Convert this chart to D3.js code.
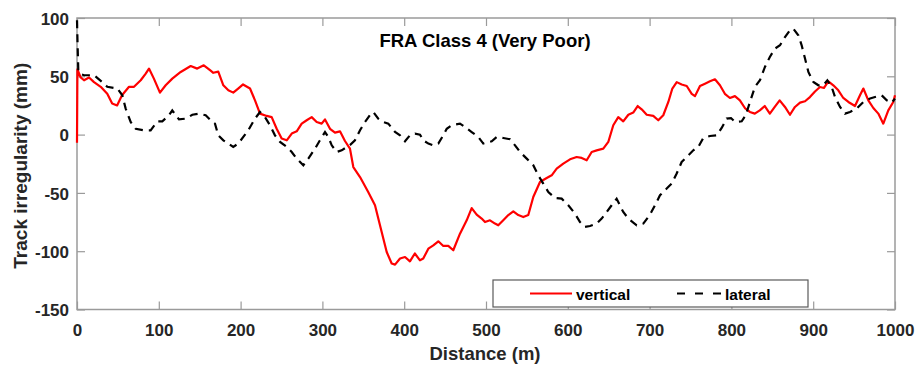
<!DOCTYPE html>
<html>
<head>
<meta charset="utf-8">
<script src="https://cdn.jsdelivr.net/npm/d3@7"></script>
<style>
  html, body { margin: 0; padding: 0; background: #fff; }
  svg { display: block; font-family: "Liberation Sans", Arial, sans-serif; }
</style>
</head>
<body>
<svg id="chart" width="916" height="367"></svg>
<script>
// Track irregularity profiles along 1 km of FRA Class 4 track: [distance (m), irregularity (mm)]
const verticalData = [
  [0,-7],[0.5,56],[4.5,49],[8.6,46.6],[14.7,49],[20.8,45],[29,41],[37,35],[43,26.6],[49,25],
  [55,33.7],[63.6,41],[69.7,41],[77.9,46.6],[84,52.3],[88,56.6],[94,48],[101.4,36],[108.4,42.3],
  [116.5,48],[126.8,53.7],[139,58.8],[147,56.6],[155,59.4],[163,55],[166.6,53],[172.7,54],
  [178.9,42.3],[185,38],[191,36],[197,39.5],[203,43],[211.5,39.5],[217.6,29.4],[223.7,18],
  [231.9,16],[238,15],[244.1,5],[250.2,-3.4],[256.4,-4.9],[262.5,0.9],[268.6,2.8],[274.7,9.4],
  [280.8,12.3],[286.9,15],[293,10.8],[299.1,9.4],[303.2,13],[309.3,5],[315.4,1.7],[321.5,2.8],
  [327.6,-5.5],[333.7,-12],[337.8,-27.8],[346,-36.4],[356,-49.2],[364.3,-60.6],[370.4,-77.8],
  [378.6,-100.7],[384.7,-110.6],[388.8,-111.5],[394.9,-106.3],[401,-105],[407,-108.7],[413,-102],
  [419.3,-107.8],[423.3,-106.3],[429.5,-97.8],[435.6,-95],[441.7,-91.5],[447.8,-95.5],[453.9,-95.5],
  [460,-99.2],[468.2,-85],[476.4,-73.5],[482.5,-63],[488.6,-68.6],[494.7,-72],[498.8,-75],
  [504.9,-73.5],[511,-76.3],[515,-77.8],[521.1,-73.5],[527.3,-69],[533.4,-65.8],[539.5,-69],
  [545.6,-70.7],[551.7,-69],[557.8,-53.5],[566,-40.6],[574.2,-37.2],[580.3,-34.9],[586.4,-29.2],
  [594.5,-24.9],[602.7,-21.2],[610.8,-19.2],[617,-20],[623.1,-22],[629.2,-14.9],[635.3,-13.5],
  [643.4,-12],[649.5,-6.3],[655.6,8],[661.7,15],[667.8,11.4],[674,17],[680,18.9],[685.4,24.5],
  [690.3,21.7],[696.5,17],[704.5,16],[710.6,12.3],[716.7,16.6],[722.9,28],[727.8,39.5],[733.2,45],
  [739.2,43],[745.4,41.7],[751.5,35],[755.5,33],[761.6,41.7],[767.7,43.7],[773.8,45.7],[779.9,47.4],
  [786,42.3],[792,35],[798.2,31.4],[804.3,33],[810.4,29.4],[816.5,22.8],[822.6,19.4],[828.6,18],
  [834.7,20.8],[840.8,24.5],[847,18],[853,23.7],[859,29.4],[865.5,23.7],[871.6,17],[877.7,23.7],
  [883.9,27.4],[890,28.6],[896,32.2],[902.2,37],[908.3,40.8],[913.2,40],[918.5,45.7],[924.6,42.3],
  [930.7,38],[936.8,31.4],[943,28],[951.1,24.5],[957.2,33.7],[961.3,39.5],[967.4,29.4],[973.5,22.8],
  [979.6,18],[985.7,9.4],[991.8,20.8],[997.9,28],[1000,33.7]
];

const lateralData = [
  [0,98],[0.8,75],[1.6,55],[4,52],[8.6,50.9],[20.8,50.9],[31,45],[37,41],[49.3,39.5],[55.4,33.7],
  [59.5,22.3],[65.6,10.8],[71.8,5],[81.9,3.7],[90,3.7],[98.2,11.4],[104.3,11.4],[112.5,16.6],
  [116.5,20.8],[124.7,13],[132.9,13.7],[141,17],[149.1,18],[157.3,16.6],[165.4,10.8],[168.7,9.4],
  [172.7,-0.6],[178.9,-4.9],[185,-7.7],[191,-10.6],[197.2,-7.7],[203.3,-2],[209.4,3.7],[217.6,13.7],
  [223.7,19.4],[229.8,15],[235.9,8],[242,-0.6],[248.2,-6.3],[256.4,-10.6],[262.5,-14.9],[268.6,-20.6],
  [276.7,-26.3],[282.8,-20.6],[291,-12],[297,-4.9],[303.2,2.2],[307.2,-2],[311.4,-9.2],[317.5,-14.9],
  [323.6,-13.5],[329.7,-10.6],[333.7,-9],[339.8,-4.9],[346,3.7],[352,10.8],[358,16.6],[362.2,19.4],
  [368.3,13.7],[374.4,10.8],[380.6,9.4],[388.8,2.2],[394.9,-0.6],[401,-5.7],[407,-0.6],[413.2,0.9],
  [419.3,0],[423.3,-4.9],[429.5,-7.7],[435.6,-9.2],[441.7,-7.7],[447.8,-0.6],[452,5],[458,8],
  [468.2,9.4],[474.3,6.5],[482.5,2.2],[490.6,-2],[496.7,-7.7],[507,-5.7],[513.1,-2],[521.2,-2.9],
  [529.3,-4],[535.5,-9.2],[541.6,-14.9],[549.8,-20.6],[557.8,-26.3],[563.9,-34.9],[570,-42],
  [576.2,-49.2],[584.4,-54.4],[592.5,-54.9],[600.6,-60.6],[608.8,-67.8],[614.9,-75],[621,-79.2],
  [627.1,-78.4],[635.3,-76.3],[641.4,-72],[647.5,-66.4],[653.6,-60.6],[659.7,-55],[661.7,-57.8],
  [667.8,-66.4],[674,-72],[684.2,-77.8],[692.3,-76.3],[700.5,-68.6],[706.6,-60.6],[712.7,-52],
  [720.9,-46.3],[727,-42],[733.1,-33.4],[739.2,-23.5],[745.4,-19.2],[753.4,-13.5],[759.5,-10.6],
  [765.6,-2.9],[773.8,-1.2],[782,-0.6],[788.1,5.7],[794.2,13.7],[799.5,14.2],[804.4,10.8],
  [812.6,11.4],[817.5,16.6],[822.7,28],[828.8,41],[834.9,46.6],[841,58],[847,66.6],[853.3,73.8],
  [859.4,76.6],[865.5,83.7],[871.6,89.5],[875.7,90.9],[881.8,85.2],[885.9,76.6],[890,65.2],
  [894.1,53.7],[900.2,45.1],[906.3,42.3],[912.4,42.3],[917.3,46.6],[922.6,40.8],[926.7,32.2],
  [932.8,23.7],[938.9,18],[945,19.4],[953.2,22.3],[961.3,28],[969.5,30.9],[975.6,32.2],
  [983.7,33.7],[989.9,29.4],[996,27.4],[1000,30.9]
];

const xTicks = [0, 100, 200, 300, 400, 500, 600, 700, 800, 900, 1000];
const yTicks = [-150, -100, -50, 0, 50, 100];
const seriesNames = ["vertical", "lateral"];
const titleText = "FRA Class 4 (Very Poor)";
const xLabel = "Distance (m)";
const yLabel = "Track irregularity (mm)";

const svg = d3.select("#chart");
const plot = { left: 77, right: 895, top: 18, bottom: 309.5 };

const x = d3.scaleLinear().domain([0, 1000]).range([plot.left, plot.right]);
const y = d3.scaleLinear().domain([-150, 100]).range([plot.bottom, plot.top]);

const axisColor = "#9a9a9a";
const textColor = "#262626";
const plainNumber = d => String(d);

// Axes with inward ticks on all four sides
const gx = svg.append("g").attr("transform", `translate(0,${plot.bottom})`)
  .call(d3.axisBottom(x).tickValues(xTicks).tickFormat(plainNumber)
    .tickSizeInner(-8).tickSizeOuter(0).tickPadding(0));
const gxTop = svg.append("g").attr("transform", `translate(0,${plot.top})`)
  .call(d3.axisTop(x).tickValues(xTicks).tickSizeInner(-8).tickSizeOuter(0).tickFormat(""));
const gy = svg.append("g").attr("transform", `translate(${plot.left},0)`)
  .call(d3.axisLeft(y).tickValues(yTicks).tickFormat(plainNumber)
    .tickSizeInner(-8).tickSizeOuter(0).tickPadding(0));
const gyRight = svg.append("g").attr("transform", `translate(${plot.right},0)`)
  .call(d3.axisRight(y).tickValues(yTicks).tickSizeInner(-8).tickSizeOuter(0).tickFormat(""));

[gx, gxTop, gy, gyRight].forEach(g => {
  g.select(".domain").remove();
  g.selectAll(".tick line").attr("stroke", axisColor).attr("stroke-width", 1.2);
});

gx.selectAll(".tick text")
  .attr("y", 26).attr("dy", 0)
  .attr("fill", textColor).attr("font-size", 17).attr("font-weight", "bold");
gy.selectAll(".tick text")
  .attr("x", -8).attr("dy", "0.36em")
  .attr("fill", textColor).attr("font-size", 17).attr("font-weight", "bold");

// Plot box
svg.append("rect")
  .attr("x", plot.left).attr("y", plot.top)
  .attr("width", plot.right - plot.left).attr("height", plot.bottom - plot.top)
  .attr("fill", "none").attr("stroke", axisColor).attr("stroke-width", 1.5);

// Lines
const line = d3.line().x(d => x(d[0])).y(d => y(d[1]));
const plotArea = svg.append("g");
plotArea.append("path").datum(verticalData)
  .attr("d", line).attr("fill", "none")
  .attr("stroke", "#ff0000").attr("stroke-width", 2.2).attr("stroke-linejoin", "round");
plotArea.append("path").datum(lateralData)
  .attr("d", line).attr("fill", "none")
  .attr("stroke", "#000").attr("stroke-width", 2.2).attr("stroke-dasharray", "8,6");

// Title
svg.append("text")
  .attr("x", 485).attr("y", 47).attr("text-anchor", "middle")
  .attr("font-size", 18.5).attr("font-weight", "bold").attr("fill", "#000")
  .text(titleText);

// Axis labels
svg.append("text")
  .attr("x", 485).attr("y", 360).attr("text-anchor", "middle")
  .attr("font-size", 18.5).attr("font-weight", "bold").attr("fill", textColor)
  .text(xLabel);
svg.append("text")
  .attr("transform", `translate(27,${(plot.top + plot.bottom) / 2 + 2}) rotate(-90)`)
  .attr("text-anchor", "middle")
  .attr("font-size", 19).attr("font-weight", "bold").attr("fill", textColor)
  .text(yLabel);

// Legend
const legend = svg.append("g");
legend.append("rect")
  .attr("x", 493).attr("y", 280).attr("width", 315).attr("height", 27)
  .attr("fill", "#fff").attr("stroke", "#5a5a5a").attr("stroke-width", 1.2);
const legendItems = [
  { name: seriesNames[0], x0: 530, x1: 572, color: "#ff0000", dash: null },
  { name: seriesNames[1], x0: 677, x1: 721, color: "#000", dash: "8,10" }
];
legendItems.forEach(it => {
  legend.append("line")
    .attr("x1", it.x0).attr("x2", it.x1).attr("y1", 293.5).attr("y2", 293.5)
    .attr("stroke", it.color).attr("stroke-width", 2.2)
    .attr("stroke-dasharray", it.dash);
  legend.append("text")
    .attr("x", it.x1 + 4).attr("y", 299.5)
    .attr("font-size", 15.5).attr("font-weight", "bold").attr("fill", "#000")
    .text(it.name);
});
</script>
</body>
</html>
